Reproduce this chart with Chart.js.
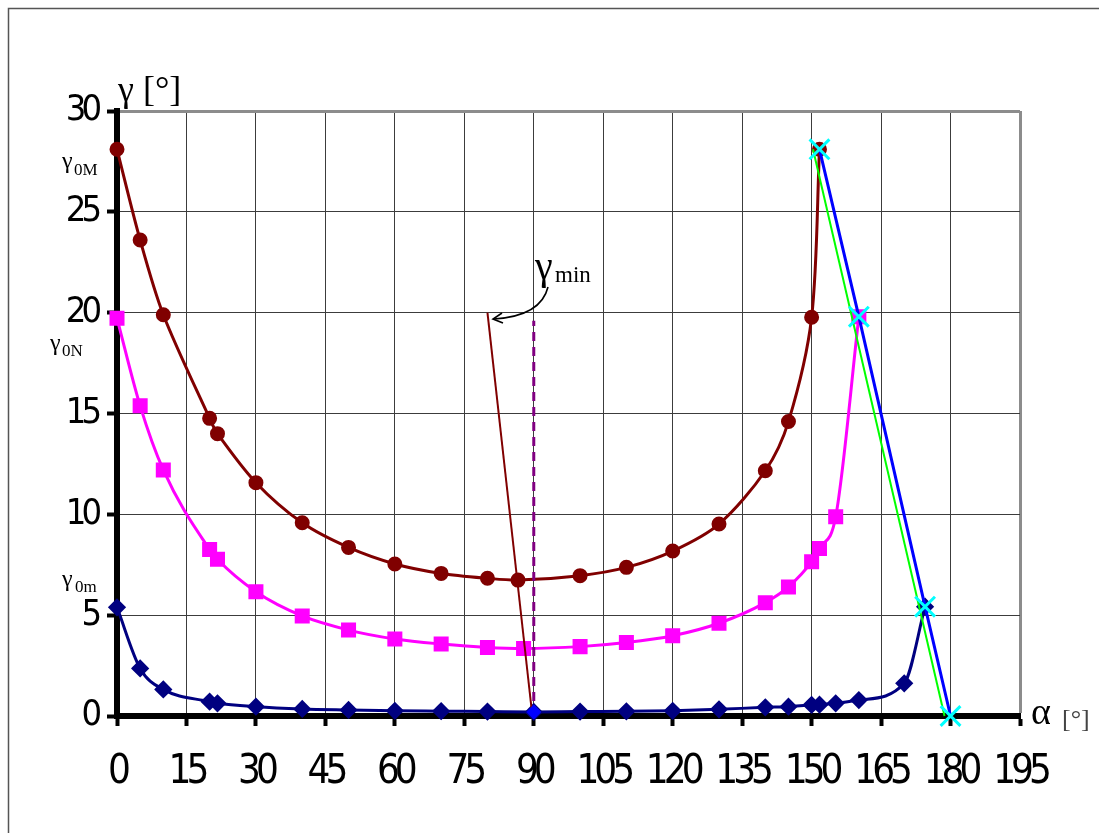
<!DOCTYPE html>
<html>
<head>
<meta charset="utf-8">
<script src="https://cdn.jsdelivr.net/npm/chart.js@4.4.1/dist/chart.umd.min.js"></script>
<style>
  html, body { margin: 0; padding: 0; background: #fff; }
  #wrap { width: 1099px; height: 833px; }
</style>
</head>
<body>
<div id="wrap"><canvas id="chart" width="1099" height="833"></canvas></div>
<script>
  const narrow = '"Liberation Sans Narrow", "Arial Narrow", "DejaVu Sans Condensed", sans-serif';
  const serif = '"Liberation Serif", "Times New Roman", "DejaVu Serif", serif';

  // axis ticks
  const xTicks = [0, 15, 30, 45, 60, 75, 90, 105, 120, 135, 150, 165, 180, 195];
  const yTicks = [0, 5, 10, 15, 20, 25, 30];

  // gamma_0M curve (maroon, circles)
  const alphaM = [0, 5, 10, 20, 21.7, 30, 40, 50, 60, 70, 80, 86.6, 100, 110, 120, 130, 140, 145, 150, 151.7];
  const gammaM = [28.1, 23.6, 19.9, 14.76, 14.0, 11.57, 9.58, 8.36, 7.54, 7.07, 6.83, 6.74, 6.96, 7.37, 8.18, 9.52, 12.16, 14.6, 19.77, 28.1];

  // gamma_0N curve (magenta, squares)
  const alphaN = [0, 5, 10, 20, 21.7, 30, 40, 50, 60, 70, 80, 87.8, 100, 110, 120, 130, 140, 145, 150, 151.7, 155.2, 160.2];
  const gammaN = [19.72, 15.38, 12.2, 8.26, 7.77, 6.16, 4.96, 4.26, 3.82, 3.57, 3.4, 3.35, 3.44, 3.64, 3.98, 4.6, 5.62, 6.4, 7.65, 8.31, 9.88, 19.8];

  // gamma_0m curve (navy, diamonds)
  const alphaS = [0, 5, 10, 20, 21.7, 30, 40, 50, 60, 70, 80, 90, 100, 110, 120, 130, 140, 145, 150, 151.7, 155.2, 160.2, 170, 174.5];
  const gammaS = [5.39, 2.36, 1.32, 0.71, 0.63, 0.46, 0.35, 0.3, 0.26, 0.24, 0.22, 0.2, 0.22, 0.23, 0.26, 0.33, 0.43, 0.46, 0.55, 0.56, 0.63, 0.79, 1.62, 5.42];

  // peaks joined (blue line, cyan crosses)
  const alphaPeak = [151.7, 160.2, 174.5, 180];
  const gammaPeak = [28.1, 19.8, 5.42, 0];

  // straight fit (green)
  const alphaFit = [150.3, 178.7];
  const gammaFit = [28.1, 0];

  // locus of minima
  const alphaLocus = [80, 89.7];
  const gammaLocus = [20, 0];

  // vertical at 90 deg (dashed)
  const alphaMid = [90, 90];
  const gammaMid = [0, 19.6];

  // minimum point
  const alphaLow = [90];
  const gammaLow = [0.2];

  const pts = (xs, ys) => xs.map((x, i) => ({ x, y: ys[i] }));

  const framePlugin = {
    id: "frame",
    beforeDraw(chart) {
      const ctx = chart.ctx;
      ctx.save();
      ctx.fillStyle = "#fff";
      ctx.fillRect(0, 0, chart.width, chart.height);
      ctx.strokeStyle = "#555";
      ctx.lineWidth = 1.5;
      ctx.strokeRect(8.5, 8.5, 1300, 1000);
      ctx.restore();
      ctx.letterSpacing = "-5px";
    },
    afterDraw(chart) {
      const ctx = chart.ctx;
      ctx.save();
      ctx.letterSpacing = "0px";
      ctx.textBaseline = "alphabetic";
      ctx.textAlign = "left";
      const txt = (s, x, y, size, color) => {
        ctx.font = size + "px " + serif;
        ctx.fillStyle = color || "#000";
        ctx.fillText(s, x, y);
      };
      txt("γ [°]", 118, 101, 36);
      txt("α", 1031, 724, 38);
      txt("[°]", 1062, 727, 26, "#444");
      txt("γ", 62, 168, 24);
      txt("0M", 74, 175, 17);
      txt("γ", 50, 350, 24);
      txt("0N", 62, 356, 17);
      txt("γ", 62, 586, 24);
      txt("0m", 75, 592, 17);
      txt("γ", 535, 279, 40);
      txt("min", 555, 282, 23);

      // arrow to the locus of minima
      ctx.strokeStyle = "#000";
      ctx.lineWidth = 1.6;
      ctx.beginPath();
      ctx.moveTo(548, 287);
      ctx.quadraticCurveTo(541, 316, 494, 319);
      ctx.stroke();
      ctx.beginPath();
      ctx.moveTo(502, 313);
      ctx.lineTo(493, 319);
      ctx.lineTo(503, 323);
      ctx.stroke();
      ctx.restore();
    },
  };

  function axisGrid(last) {
    return {
      color: (c) => (c.tick && c.tick.value === last ? "#8c8c8c" : "#3c3c3c"),
      lineWidth: (c) => (c.tick && c.tick.value === last ? 3 : 1),
      tickLength: 10,
      tickWidth: 4,
      tickColor: "#000",
    };
  }

  new Chart(document.getElementById("chart"), {
    type: "line",
    data: {
      datasets: [
        {
          data: pts(alphaPeak, gammaPeak),
          borderColor: "#0000ff",
          borderWidth: 3,
          pointStyle: "crossRot",
          pointRadius: 14,
          pointBorderColor: "#00ffff",
          pointBorderWidth: 3,
          tension: 0,
        },
        {
          data: pts(alphaFit, gammaFit),
          borderColor: "#00ff00",
          borderWidth: 2,
          pointRadius: 0,
          tension: 0,
        },
        {
          data: pts(alphaLow, gammaLow),
          showLine: false,
          pointStyle: "rectRot",
          pointRadius: 7,
          pointBackgroundColor: "#0000ff",
          pointBorderColor: "#0000ff",
        },
        {
          data: pts(alphaLocus, gammaLocus),
          borderColor: "#800000",
          borderWidth: 2,
          pointRadius: 0,
          tension: 0,
        },
        {
          data: pts(alphaMid, gammaMid),
          borderColor: "#800080",
          borderWidth: 3,
          borderDash: [9, 6],
          pointRadius: 0,
          tension: 0,
        },
        {
          data: pts(alphaS, gammaS),
          borderColor: "#000080",
          borderWidth: 3,
          pointStyle: "rectRot",
          pointRadius: 7,
          pointBackgroundColor: "#000080",
          pointBorderColor: "#000080",
          cubicInterpolationMode: "monotone",
        },
        {
          data: pts(alphaN, gammaN),
          borderColor: "#ff00ff",
          borderWidth: 3,
          pointStyle: "rect",
          pointRadius: 8.5,
          pointBackgroundColor: "#ff00ff",
          pointBorderColor: "#ff00ff",
          cubicInterpolationMode: "monotone",
        },
        {
          data: pts(alphaM, gammaM),
          borderColor: "#800000",
          borderWidth: 3,
          pointStyle: "circle",
          pointRadius: 6,
          pointBackgroundColor: "#800000",
          pointBorderColor: "#800000",
          tension: 0.3,
        },
      ].map((d) => Object.assign({ clip: false, fill: false }, d)),
    },
    options: {
      responsive: false,
      animation: false,
      events: [],
      layout: { padding: { top: 111, right: 79, left: 0, bottom: 0 } },
      plugins: { legend: { display: false }, tooltip: { enabled: false } },
      scales: {
        x: {
          type: "linear",
          min: 0,
          max: 195,
          afterBuildTicks: (s) => { s.ticks = xTicks.map((v) => ({ value: v })); },
          afterFit: (s) => { s.height = 117; },
          grid: axisGrid(195),
          border: { color: "#000", width: 6 },
          ticks: {
            color: "#000",
            font: { family: narrow, size: 40 },
            padding: 23,
            maxRotation: 0,
            autoSkip: false,
          },
        },
        y: {
          type: "linear",
          min: 0,
          max: 30,
          afterBuildTicks: (s) => { s.ticks = yTicks.map((v) => ({ value: v })); },
          afterFit: (s) => { s.width = 117; },
          grid: axisGrid(30),
          border: { color: "#000", width: 6 },
          ticks: {
            color: "#000",
            font: { family: narrow, size: 36 },
            padding: 10,
            autoSkip: false,
          },
        },
      },
    },
    plugins: [framePlugin],
  });
</script>
</body>
</html>
